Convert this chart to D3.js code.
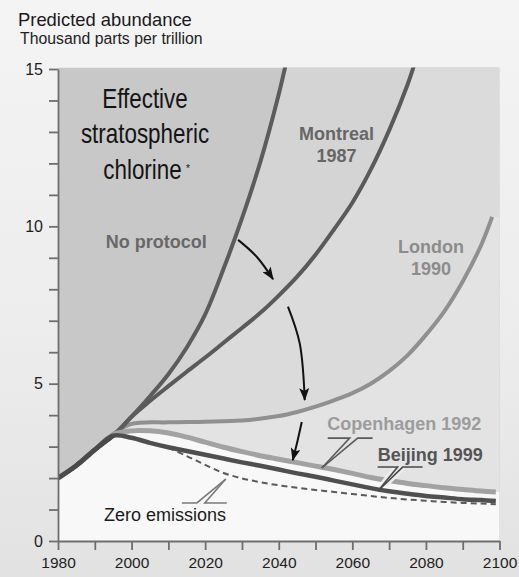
<!DOCTYPE html>
<html>
<head>
<meta charset="utf-8">
<script src="https://cdn.jsdelivr.net/npm/d3@7/dist/d3.min.js"></script>
<style>
  html, body { margin: 0; padding: 0; background: #eeeeee; }
  svg { display: block; }
  text { font-family: "Liberation Sans", Arial, Helvetica, sans-serif; }
</style>
</head>
<body>
<svg id="chart" width="519" height="577"></svg>
<script>
// ---------------- data ----------------
const baseYears  = [1980, 1985, 1990, 1995];
const baseValues = [2.0, 2.4, 2.9, 3.35];

const noProtocolYears  = [1995, 2000, 2005, 2010, 2015, 2020, 2025, 2030, 2035, 2040, 2042];
const noProtocolValues = [3.35, 3.95, 4.6, 5.3, 6.15, 7.2, 8.65, 10.25, 12.05, 14.2, 15.2];

const montrealYears  = [1995, 2000, 2005, 2010, 2015, 2020, 2025, 2030, 2035, 2040, 2045, 2050, 2055, 2060, 2065, 2070, 2075, 2077];
const montrealValues = [3.35, 3.95, 4.45, 4.92, 5.38, 5.83, 6.3, 6.77, 7.25, 7.8, 8.4, 9.1, 9.9, 10.75, 11.8, 13.05, 14.5, 15.2];

const londonYears  = [1995, 2000, 2010, 2020, 2030, 2040, 2045, 2050, 2055, 2060, 2065, 2070, 2075, 2080, 2085, 2090, 2095, 2098];
const londonValues = [3.4, 3.72, 3.77, 3.79, 3.83, 3.97, 4.1, 4.27, 4.47, 4.7, 5.0, 5.4, 5.9, 6.55, 7.3, 8.25, 9.4, 10.3];

const copenhagenYears  = [1995, 2000, 2005, 2010, 2015, 2020, 2025, 2030, 2035, 2040, 2045, 2050, 2055, 2060, 2065, 2070, 2075, 2080, 2085, 2090, 2095, 2099];
const copenhagenValues = [3.38, 3.5, 3.5, 3.43, 3.3, 3.14, 2.98, 2.84, 2.71, 2.6, 2.49, 2.38, 2.27, 2.15, 2.02, 1.92, 1.83, 1.76, 1.69, 1.64, 1.59, 1.56];

const beijingYears  = [1995, 2000, 2005, 2010, 2015, 2020, 2025, 2030, 2035, 2040, 2045, 2050, 2055, 2060, 2065, 2070, 2075, 2080, 2085, 2090, 2095, 2099];
const beijingValues = [3.35, 3.28, 3.12, 2.98, 2.86, 2.74, 2.62, 2.5, 2.39, 2.27, 2.15, 2.04, 1.92, 1.8, 1.68, 1.58, 1.5, 1.43, 1.38, 1.33, 1.3, 1.27];

const zeroYears  = [2010, 2015, 2020, 2025, 2030, 2035, 2040, 2045, 2050, 2055, 2060, 2065, 2070, 2075, 2080, 2085, 2090, 2095, 2099];
const zeroValues = [2.96, 2.7, 2.42, 2.16, 1.99, 1.87, 1.77, 1.69, 1.62, 1.56, 1.49, 1.43, 1.37, 1.32, 1.28, 1.24, 1.21, 1.19, 1.17];

const xTickValues = [1980, 1990, 2000, 2010, 2020, 2030, 2040, 2050, 2060, 2070, 2080, 2090, 2100];
const xTickLabels = ["1980", "", "2000", "", "2020", "", "2040", "", "2060", "", "2080", "", "2100"];
const yTickValues = d3.range(0, 16, 1);
const yTickLabels = ["0", "", "", "", "", "5", "", "", "", "", "10", "", "", "", "", "15"];

// annotation arrows (year, value) : start, middle, tip
const arrow1 = [[2028.95, 9.57], [2033.95, 9.04], [2038.45, 8.32]];
const arrow2 = [[2042.5, 7.45], [2045.7, 6.28], [2047.06, 4.48]];
const arrow3 = [[2046.25, 3.78], [2045.1, 3.18], [2043.8, 2.57]];

// label callouts (year, value)
const copenhagenCallout = [[[2053.3, 3.27], [2059.28, 3.27], [2051.7, 2.32]], [[2065.5, 3.27], [2061.45, 3.27], [2051.7, 2.32]]];
const beijingCallout    = [[[2066.88, 2.35], [2072.3, 2.35], [2066.95, 1.59]], [[2079.1, 2.35], [2073.67, 2.35], [2066.95, 1.59]]];
const zeroCallout       = [[[2013.67, 1.21], [2017.74, 1.21], [2025.6, 1.97]], [[2025.88, 1.21], [2019.9, 1.21], [2025.6, 1.97]]];

// ---------------- setup ----------------
const svg = d3.select("#chart");
const W = 519, H = 577;

const x = d3.scaleLinear().domain([1980, 2100]).range([58, 499.5]);
const y = d3.scaleLinear().domain([0, 15]).range([541, 69]);

const defs = svg.append("defs");
const bg = defs.append("linearGradient").attr("id", "bg").attr("x1", 0).attr("y1", 0).attr("x2", 0).attr("y2", 1);
bg.append("stop").attr("offset", "0%").attr("stop-color", "#f4f4f4");
bg.append("stop").attr("offset", "60%").attr("stop-color", "#ececec");
bg.append("stop").attr("offset", "100%").attr("stop-color", "#e2e2e2");

svg.append("rect").attr("width", W).attr("height", H).attr("fill", "url(#bg)");

const plotTop = y(15) - 1.5;
defs.append("clipPath").attr("id", "plotclip")
  .append("rect")
  .attr("x", x(1980)).attr("y", plotTop)
  .attr("width", x(2100) - x(1980)).attr("height", y(0) - plotTop);

defs.append("marker")
  .attr("id", "arrowhead")
  .attr("viewBox", "0 0 13 10")
  .attr("refX", 12).attr("refY", 5)
  .attr("markerWidth", 13).attr("markerHeight", 10)
  .attr("markerUnits", "userSpaceOnUse")
  .attr("orient", "auto")
  .append("path").attr("d", "M0,0 L13,5 L0,10 L3,5 Z").attr("fill", "#111");

const zip = (xs, vs) => xs.map((d, i) => [d, vs[i]]);
const withBase = (xs, vs) => zip(baseYears, baseValues).slice(0, -1).concat(zip(xs, vs));

const series = {
  np: withBase(noProtocolYears, noProtocolValues),
  mo: withBase(montrealYears, montrealValues),
  lo: withBase(londonYears, londonValues),
  co: withBase(copenhagenYears, copenhagenValues),
  be: withBase(beijingYears, beijingValues),
  ze: zip(zeroYears, zeroValues)
};

const line = d3.line().x(d => x(d[0])).y(d => y(d[1])).curve(d3.curveCatmullRom.alpha(0.5));
const poly = d3.line().x(d => x(d[0])).y(d => y(d[1]));
const smooth = d3.line().x(d => x(d[0])).y(d => y(d[1])).curve(d3.curveCatmullRom.alpha(0.5));

// area under a series: curve path then close to right edge and baseline
function areaPath(pts) {
  const last = pts[pts.length - 1];
  const xd = x.domain();
  const top = line(pts);
  const closing = [[last[0], last[1]], [xd[1], last[1]], [xd[1], 0], [xd[0], 0], [pts[0][0], pts[0][1]]];
  return top + poly(closing).replace(/^M/, "L");
}

const plot = svg.append("g").attr("clip-path", "url(#plotclip)");

// region fills
plot.append("rect")
  .attr("x", x(1980)).attr("y", plotTop)
  .attr("width", x(2100) - x(1980)).attr("height", y(0) - plotTop)
  .attr("fill", "#c8c8c8");
plot.append("path").attr("d", areaPath(series.np)).attr("fill", "#d4d4d4");
plot.append("path").attr("d", areaPath(series.mo)).attr("fill", "#dbdbdb");
plot.append("path").attr("d", areaPath(series.lo)).attr("fill", "#e3e3e3");
plot.append("path").attr("d", areaPath(series.co)).attr("fill", "#f8f8f8");

// lines
const lineStyles = [
  { key: "ze", color: "#5a5a5a", width: 2, dash: "6,4" },
  { key: "lo", color: "#909090", width: 4 },
  { key: "mo", color: "#5a5a5a", width: 4 },
  { key: "np", color: "#5c5c5c", width: 4 },
  { key: "co", color: "#a2a2a2", width: 5 },
  { key: "be", color: "#4f4f4f", width: 4.5 }
];
lineStyles.forEach(s => {
  plot.append("path")
    .attr("d", line(series[s.key]))
    .attr("fill", "none")
    .attr("stroke", s.color)
    .attr("stroke-width", s.width)
    .attr("stroke-dasharray", s.dash || null)
    .attr("stroke-linecap", "butt")
    .attr("stroke-linejoin", "round");
});
plot.append("path")
  .attr("d", line(zip(baseYears, baseValues)))
  .attr("fill", "none").attr("stroke", "#4a4a4a").attr("stroke-width", 4.5)
  .attr("stroke-linecap", "butt");

// callouts (with a light halo on the diagonal part that crosses other lines)
function callout(group, color, halo) {
  group.forEach(pts => {
    if (halo) {
      const a = pts[1], b = pts[2];
      const t = 0.72;
      const mid = [a[0] + (b[0] - a[0]) * t, a[1] + (b[1] - a[1]) * t];
      svg.append("path").attr("d", poly([a, mid])).attr("fill", "none")
        .attr("stroke", "#ececec").attr("stroke-width", 7);
    }
  });
  group.forEach(pts => {
    svg.append("path").attr("d", poly(pts)).attr("fill", "none")
      .attr("stroke", color).attr("stroke-width", 1.6).attr("stroke-linejoin", "miter");
  });
}
callout(copenhagenCallout, "#5a5a5a", false);
callout(beijingCallout, "#4a4a4a", true);
callout(zeroCallout, "#7a7a7a", false);

// arrows
[arrow1, arrow2, arrow3].forEach(a => {
  svg.append("path").attr("d", smooth(a)).attr("fill", "none")
    .attr("stroke", "#111").attr("stroke-width", 2)
    .attr("marker-end", "url(#arrowhead)");
});

// axes
const axisColor = "#6e6e6e";
const yAxis = d3.axisLeft(y).tickValues(yTickValues).tickSize(9).tickSizeOuter(0)
  .tickFormat((d, i) => yTickLabels[i]).tickPadding(6);
const gy = svg.append("g").attr("transform", `translate(${x(1980)},0)`).call(yAxis);
const xAxis = d3.axisBottom(x).tickValues(xTickValues).tickSize(9).tickSizeOuter(0)
  .tickFormat((d, i) => xTickLabels[i]).tickPadding(7);
const gx = svg.append("g").attr("transform", `translate(0,${y(0)})`).call(xAxis);
[gx, gy].forEach(g => {
  g.select(".domain").attr("stroke", axisColor).attr("stroke-width", 1.8);
  g.selectAll(".tick line").attr("stroke", axisColor).attr("stroke-width", 1.8);
  g.selectAll(".tick text").attr("fill", "#1e1e1e")
    .style("font-family", '"Liberation Sans", Arial, sans-serif');
});
gy.selectAll(".tick text").style("font-size", "16px");
gx.selectAll(".tick text").style("font-size", "15.5px");

// titles
svg.append("text").attr("x", 18).attr("y", 26).attr("fill", "#1a1a1a")
  .style("font-size", "18.4px").text("Predicted abundance");
svg.append("text").attr("x", 20).attr("y", 44).attr("fill", "#222")
  .style("font-size", "15.8px").text("Thousand parts per trillion");

// big label (condensed by horizontal scaling)
const bigLines = [["Effective", 145, 107.5], ["stratospheric", 145, 143.3], ["chlorine", 142.5, 179.3]];
bigLines.forEach(t => {
  svg.append("text")
    .attr("transform", `translate(${t[1]},${t[2]}) scale(0.83,1)`)
    .attr("text-anchor", "middle")
    .attr("fill", "#141414")
    .style("font-size", "27px").text(t[0]);
});
svg.append("text").attr("x", 186).attr("y", 172).attr("fill", "#141414")
  .style("font-size", "10px").text("*");

// series labels
function label(lines, cx, y0, color, anchor, weight) {
  lines.forEach((t, i) => {
    svg.append("text").attr("x", cx).attr("y", y0 + i * 22)
      .attr("text-anchor", anchor).attr("fill", color)
      .style("font-size", "18px").style("font-weight", weight).text(t);
  });
}
label(["No protocol"], 156.2, 248.3, "#686868", "middle", "bold");
label(["Montreal", "1987"], 336.5, 140, "#666666", "middle", "bold");
label(["London", "1990"], 431, 253, "#8c8c8c", "middle", "bold");
label(["Copenhagen 1992"], 327.3, 429.5, "#9c9c9c", "start", "bold");
label(["Beijing 1999"], 377.7, 461, "#555555", "start", "bold");
label(["Zero emissions"], 104, 521, "#1a1a1a", "start", "normal");
</script>
</body>
</html>
